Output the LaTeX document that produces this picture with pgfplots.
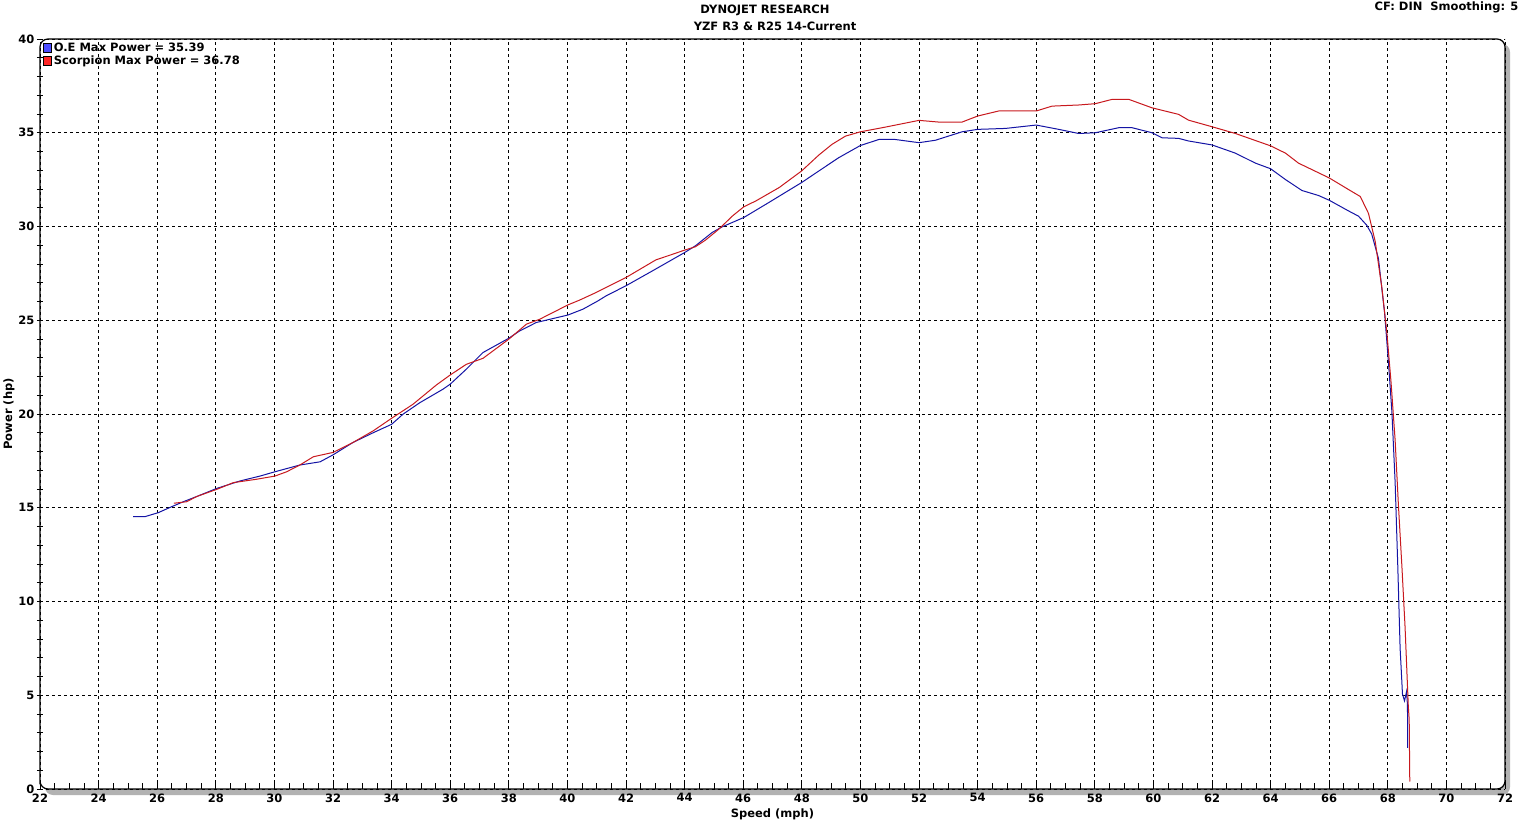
\documentclass[border=0pt]{standalone}
\usepackage{fontspec}
\setmainfont{DejaVu Sans}
\usepackage{pgfplots}
\pgfplotsset{compat=1.18}
\definecolor{oeblue}{RGB}{20,20,165}
\definecolor{scred}{RGB}{200,25,30}
\newcommand{\lbl}{\bfseries\fontsize{11.5}{13}\selectfont}
\begin{document}
\begin{tikzpicture}[x=1pt,y=1pt]
% drop shadow of the plot frame
\fill[gray!60, rounded corners=8pt] (45,27) rectangle (1510,778);
\begin{axis}[
  at={(40pt,33pt)}, anchor=south west,
  scale only axis, width=1465pt, height=750pt,
  xmin=22, xmax=72, ymin=0, ymax=40,
  xtick distance=2, ytick distance=5,
  minor x tick num=3, minor y tick num=4,
  xtick pos=bottom, ytick pos=left,
  xtick align=inside, ytick align=center,
  major tick length=6pt, minor tick length=6pt,
  every tick/.style={black, line width=0.8pt},
  grid=major,
  major grid style={black, line width=0.8pt, dash pattern=on 3pt off 3pt},
  axis line style={black, line width=1.2pt, rounded corners=8pt},
  axis background/.style={fill=white, rounded corners=8pt},
  tick label style={font=\lbl},
  /pgf/number format/assume math mode=true,
  xticklabel style={yshift=-1pt},
  yticklabel style={xshift=1pt},
  xlabel={Speed (mph)}, ylabel={Power (hp)},
  label style={font=\lbl},
  x label style={at={(axis description cs:0.5,-0.0333)}, anchor=center},
  y label style={at={(axis description cs:-0.0212,0.5)}, anchor=center},
  legend style={at={(axis description cs:0,1)}, anchor=north west, draw=none, fill=none,
    font=\lbl, inner sep=1pt, row sep=-1.5pt, xshift=2pt, yshift=-1pt},
  legend cell align=left,
]
\addplot[oeblue, line width=1pt,
  legend image code/.code={\draw[fill=blue!70, draw=black, line width=0.6pt] (0pt,-4.5pt) rectangle (8pt,4.5pt);}]
coordinates {
(25.18,14.52) (25.57,14.52) (26.04,14.74) (26.50,15.06) (26.89,15.32)
(27.35,15.60) (28.03,16.03) (28.83,16.43) (29.51,16.69) (30.02,16.92)
(30.87,17.28) (31.56,17.45) (32.00,17.82) (32.68,18.48) (33.37,19.00)
(34.00,19.45) (34.39,19.99) (34.96,20.60) (35.75,21.32) (36.00,21.59)
(36.55,22.39) (37.12,23.28) (38.00,24.04) (38.37,24.43) (38.94,24.88)
(40.02,25.28) (40.53,25.59) (41.04,26.03) (41.32,26.30) (42.00,26.84)
(42.91,27.64) (44.00,28.61) (44.37,28.97) (44.94,29.68) (45.28,29.98)
(46.02,30.48) (46.78,31.19) (48.00,32.35) (48.58,32.96) (49.26,33.67)
(50.00,34.32) (50.63,34.64) (51.19,34.64) (52.00,34.47) (52.56,34.60)
(53.47,35.05) (54.00,35.18) (54.95,35.23) (56.00,35.41) (56.77,35.18)
(57.45,34.96) (58.02,35.00) (58.82,35.27) (59.27,35.27) (59.95,35.00)
(60.30,34.73) (60.86,34.70) (61.20,34.56) (62.00,34.35) (62.80,33.91)
(63.48,33.38) (64.00,33.08) (64.51,32.50) (65.07,31.92) (65.64,31.65)
(66.00,31.40) (66.66,30.83) (67.00,30.55) (67.28,30.07) (67.45,29.60)
(67.68,28.30) (67.89,25.40) (68.02,22.80) (68.14,20.10) (68.25,16.35)
(68.34,11.90) (68.42,7.50) (68.48,5.70) (68.50,5.07) (68.57,4.70)
(68.64,5.20) (68.67,4.50) (68.68,2.20)
};
\addlegendentry{O.E Max Power = 35.39}
\addplot[scred, line width=1pt,
  legend image code/.code={\draw[fill=red!85, draw=black, line width=0.6pt] (0pt,-4.5pt) rectangle (8pt,4.5pt);}]
coordinates {
(26.57,15.24) (27.00,15.32) (27.35,15.60) (28.03,15.98) (28.60,16.34)
(29.39,16.52) (30.02,16.69) (30.42,16.92) (30.87,17.28) (31.33,17.72)
(32.00,17.95) (32.68,18.48) (33.37,19.10) (34.00,19.77) (34.73,20.52)
(35.53,21.55) (36.00,22.08) (36.55,22.65) (37.12,22.97) (38.00,23.99)
(38.60,24.79) (39.05,25.05) (40.02,25.82) (40.41,26.07) (40.98,26.48)
(42.00,27.28) (43.02,28.22) (43.59,28.52) (44.00,28.74) (44.37,28.92)
(44.71,29.27) (45.17,29.86) (45.64,30.57) (46.02,31.05) (46.44,31.37)
(47.23,32.08) (48.00,32.97) (48.58,33.81) (49.03,34.38) (49.49,34.82)
(50.00,35.05) (50.85,35.30) (52.00,35.66) (52.67,35.57) (53.47,35.57)
(54.00,35.89) (54.72,36.16) (56.00,36.16) (56.54,36.42) (57.45,36.48)
(58.02,36.55) (58.59,36.78) (59.16,36.78) (59.95,36.33) (60.86,35.98)
(61.20,35.67) (62.00,35.32) (62.80,34.96) (64.00,34.30) (64.51,33.91)
(64.95,33.38) (66.00,32.59) (66.66,31.97) (67.06,31.60) (67.34,30.70)
(67.57,29.20) (67.80,26.70) (67.97,24.30) (68.11,21.70) (68.25,18.60)
(68.36,15.20) (68.48,11.90) (68.59,8.60) (68.70,4.40) (68.73,3.70)
(68.75,0.40)
};
\addlegendentry{Scorpion Max Power = 36.78}
\end{axis}
\node[font=\lbl] at (765,812) {DYNOJET RESEARCH};
\node[font=\lbl] at (775,796) {YZF R3 \& R25 14-Current};
\node[font=\lbl, anchor=east] at (1522,815) {CF: DIN\ \ Smoothing: 5};
\pgfresetboundingbox
\path[use as bounding box] (0,0) rectangle (1530,822);
\end{tikzpicture}
\end{document}
